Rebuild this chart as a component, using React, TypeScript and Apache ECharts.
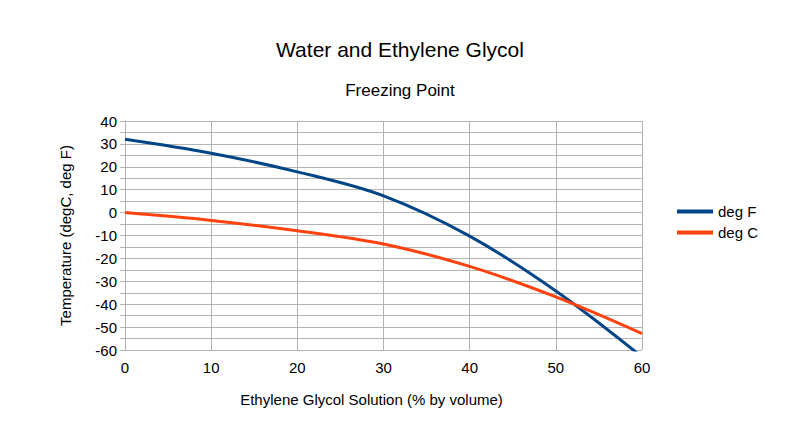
import React, { useEffect, useRef } from "react";
import * as echarts from "echarts";

const percentByVolume = [0, 10, 20, 30, 40, 50, 60];
const degF = [32, 25.9, 17.8, 7.3, -10.3, -34.2, -63];
const degC = [0, -3.4, -7.9, -13.7, -23.5, -36.8, -52.8];

const FONT = "Liberation Sans, Arial, sans-serif";
const GRID = "#b3b3b3";

export default function App() {
  const ref = useRef<HTMLDivElement>(null);
  useEffect(() => {
    if (!ref.current) return;
    const chart = echarts.init(ref.current, undefined, { renderer: "svg" });
    chart.setOption({
      animation: false,
      backgroundColor: "#ffffff",
      title: [
        {
          text: "Water and Ethylene Glycol",
          left: "center",
          top: 34,
          textStyle: { fontFamily: FONT, fontSize: 21, fontWeight: "normal", color: "#000" },
        },
        {
          text: "Freezing Point",
          left: "center",
          top: 77,
          textStyle: { fontFamily: FONT, fontSize: 17, fontWeight: "normal", color: "#000" },
        },
      ],
      legend: {
        orient: "vertical",
        left: 672,
        top: 199,
        icon: "rect",
        itemWidth: 36,
        itemHeight: 4,
        itemGap: 6,
        textStyle: { fontFamily: FONT, fontSize: 15, color: "#000" },
        data: ["deg F", "deg C"],
      },
      grid: { left: 125, right: 158, top: 121, bottom: 95 },
      xAxis: {
        type: "value",
        min: 0,
        max: 60,
        interval: 10,
        name: "Ethylene Glycol Solution (% by volume)",
        nameLocation: "middle",
        nameGap: 42,
        nameTextStyle: { fontFamily: FONT, fontSize: 15, color: "#000", padding: [0, 24, 0, 0] },
        axisLine: { show: true, lineStyle: { color: GRID, width: 1 } },
        axisTick: { show: true, length: 5, lineStyle: { color: GRID } },
        axisLabel: { fontFamily: FONT, fontSize: 15, color: "#000", margin: 10 },
        splitLine: { show: true, lineStyle: { color: GRID, width: 1 } },
      },
      yAxis: {
        type: "value",
        min: -60,
        max: 40,
        interval: 10,
        name: "Temperature (degC, deg F)",
        nameLocation: "middle",
        nameGap: 52,
        nameTextStyle: { fontFamily: FONT, fontSize: 15, color: "#000" },
        axisLine: { show: true, lineStyle: { color: GRID, width: 1 } },
        axisTick: { show: true, length: 5, lineStyle: { color: GRID } },
        minorTick: { show: true, splitNumber: 2, length: 5, lineStyle: { color: GRID } },
        axisLabel: { fontFamily: FONT, fontSize: 15, color: "#000", margin: 8 },
        splitLine: { show: true, lineStyle: { color: GRID, width: 1 } },
        minorSplitLine: { show: true, lineStyle: { color: GRID, width: 1 } },
      },
      series: [
        {
          name: "deg F",
          type: "line",
          data: percentByVolume.map((x, i) => [x, degF[i]]),
          smooth: 0.35,
          symbol: "none",
          clip: true,
          lineStyle: { color: "#004586", width: 3 },
          itemStyle: { color: "#004586" },
        },
        {
          name: "deg C",
          type: "line",
          data: percentByVolume.map((x, i) => [x, degC[i]]),
          smooth: 0.35,
          symbol: "none",
          clip: true,
          lineStyle: { color: "#ff420e", width: 3 },
          itemStyle: { color: "#ff420e" },
        },
      ],
    });
    return () => chart.dispose();
  }, []);
  return (
    <div
      ref={ref}
      style={{ position: "absolute", left: 0, top: 0, width: 800, height: 445 }}
    />
  );
}
